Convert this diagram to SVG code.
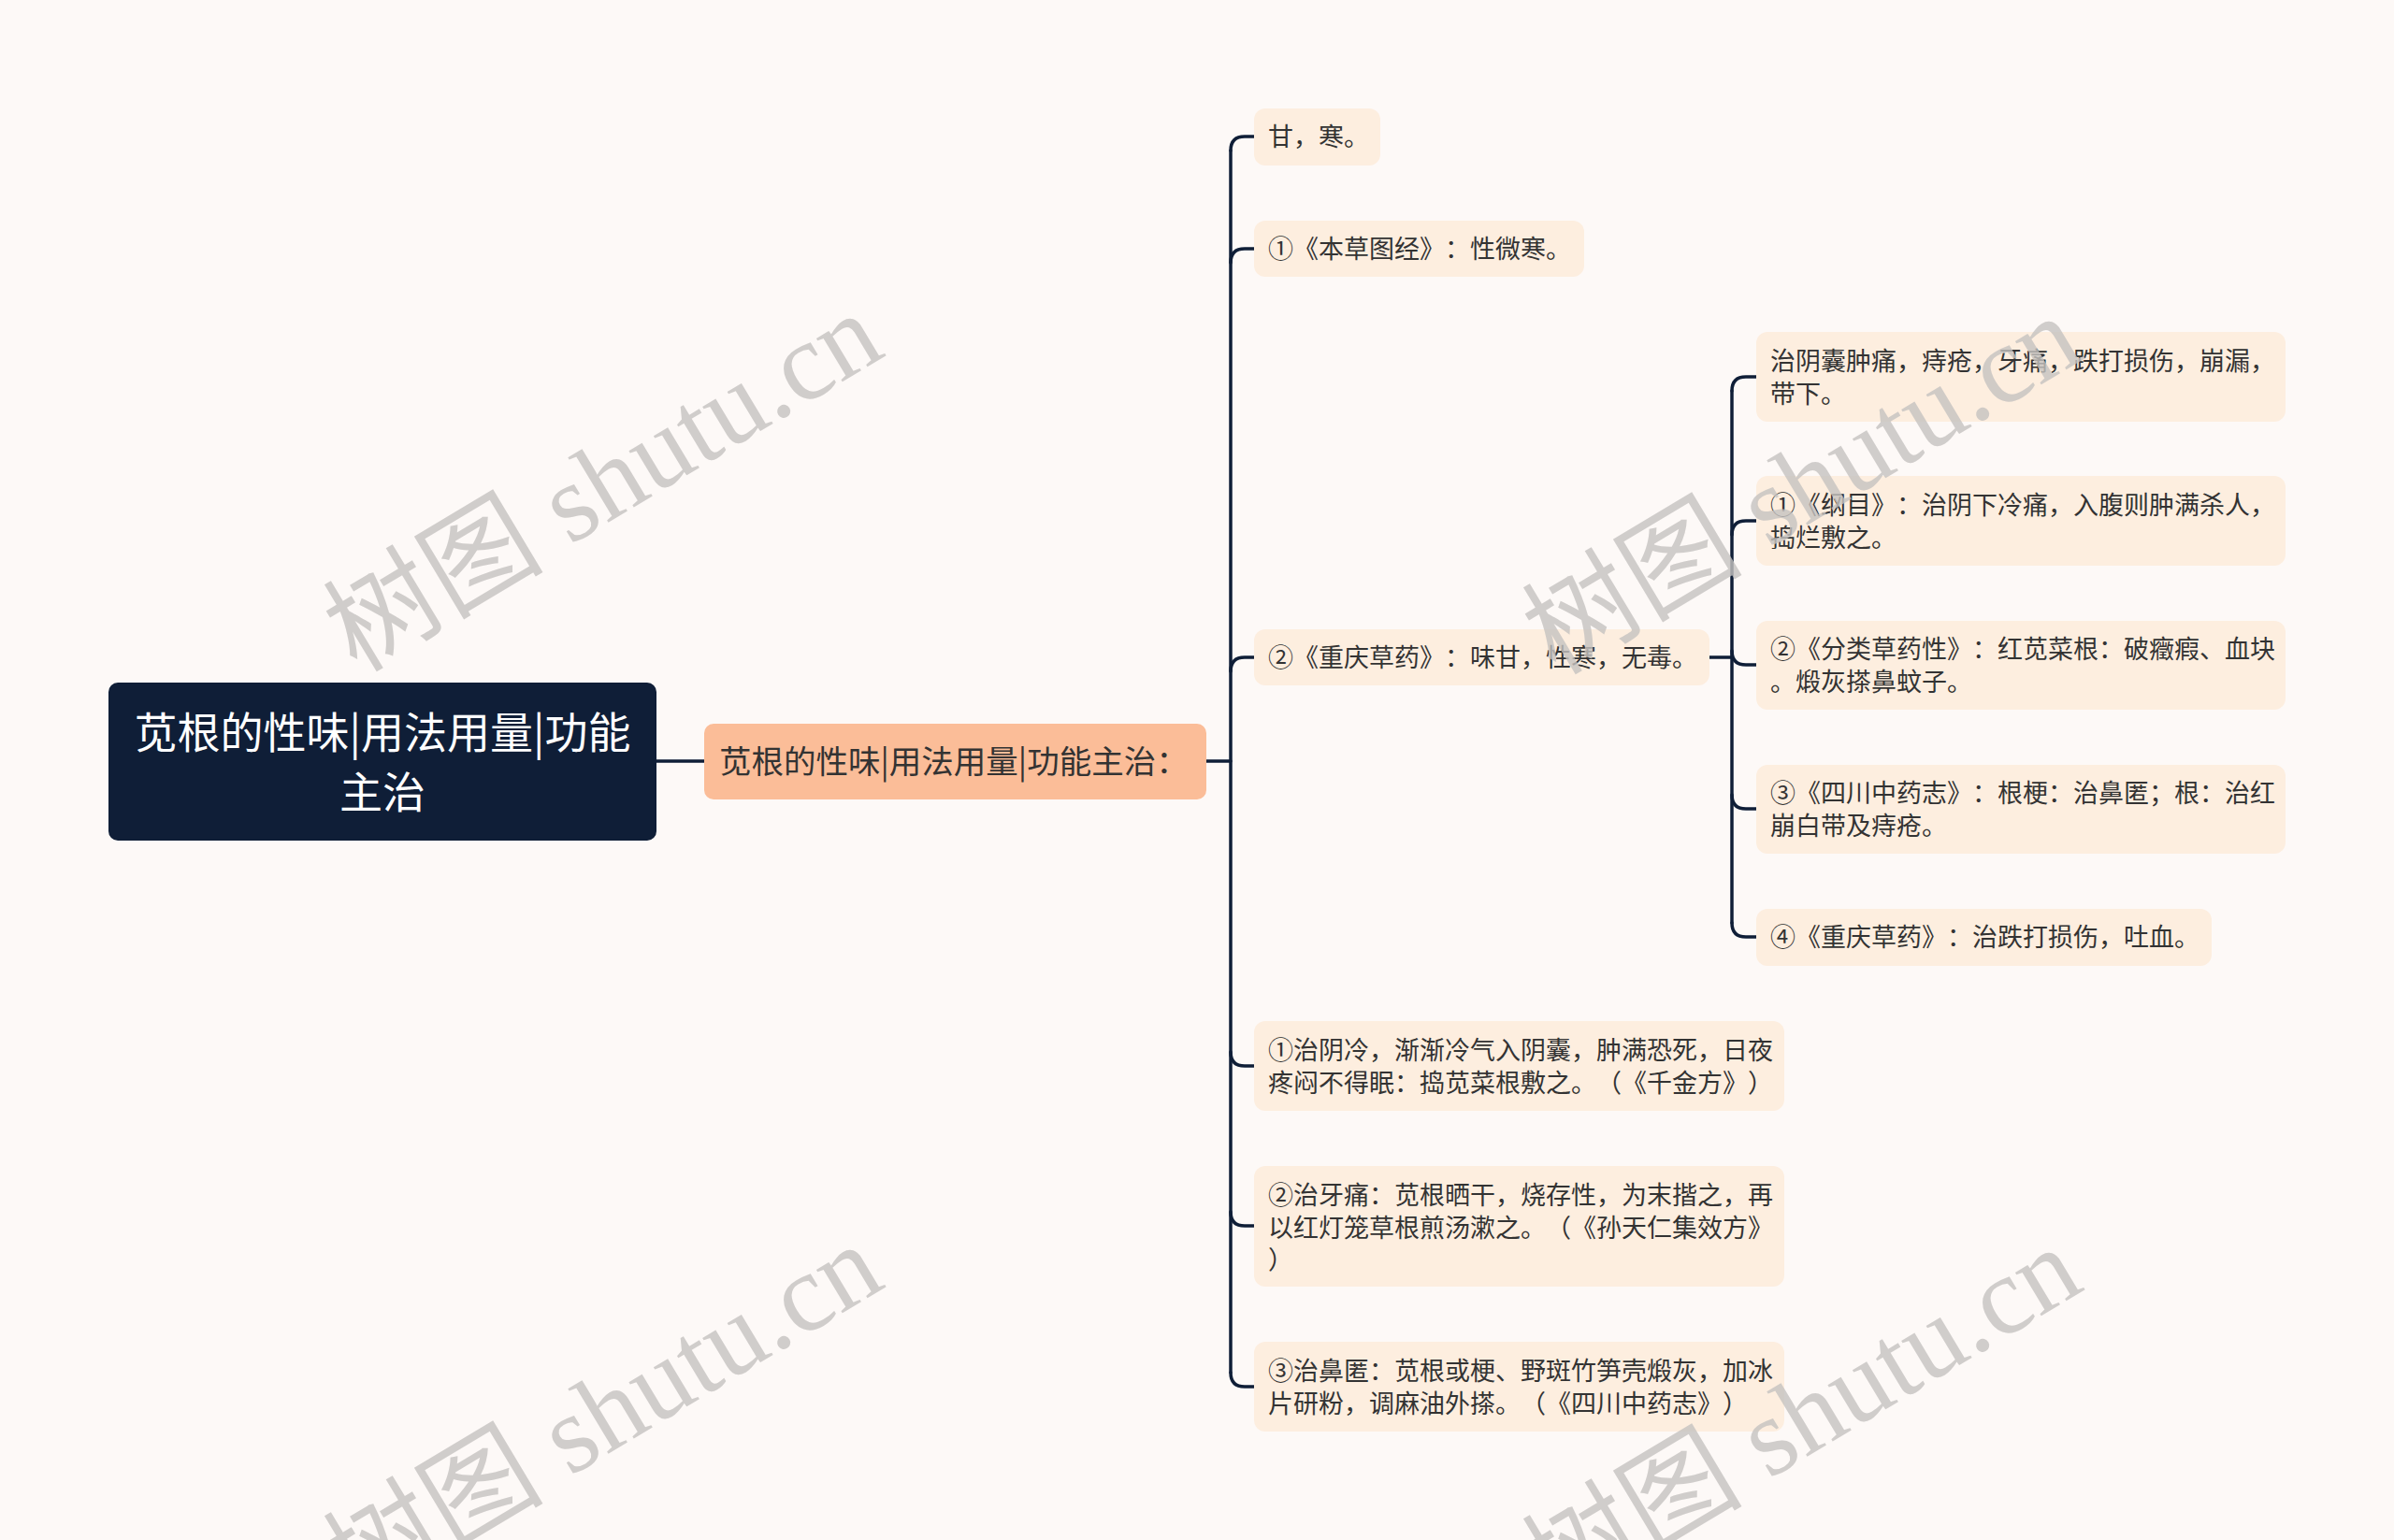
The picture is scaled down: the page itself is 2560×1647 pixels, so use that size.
<svg xmlns="http://www.w3.org/2000/svg" width="2560" height="1647" viewBox="0 0 2560 1647">
<style>
.bg{fill:#fdf9f7}
.root{fill:#0f1e37}
.l1{fill:#fbbd98}
.leaf{fill:#fdeedf}
text{text-spacing-trim:space-all}
.t{font-family:"Noto Sans CJK SC","Noto Sans",sans-serif;fill:#333333}
.rt{font-family:"Noto Sans CJK SC","Noto Sans",sans-serif;fill:#ffffff;font-size:46px}
.lt{font-size:27px}
.conn path,.conn line{fill:none;stroke:#0f1e37;stroke-width:3.5;stroke-linecap:round}
.wm{font-family:"Liberation Serif","Noto Sans CJK SC",serif;font-size:118px;fill:#c6c3c1;opacity:0.8}
</style>
<rect class="bg" x="0" y="0" width="2560" height="1647"/>

<g id="connectors" class="conn">
  <line x1="702" y1="814" x2="753" y2="814"/>
  <line x1="1290" y1="814" x2="1316" y2="814"/>
  <line x1="1316" y1="161" x2="1316" y2="1468"/>
  <path d="M1316,161 Q1316,146 1331,146 L1341,146"/>
  <path d="M1316,281 Q1316,266 1331,266 L1341,266"/>
  <path d="M1316,718 Q1316,703 1331,703 L1341,703"/>
  <path d="M1316,1125 Q1316,1140 1331,1140 L1341,1140"/>
  <path d="M1316,1296 Q1316,1311 1331,1311 L1341,1311"/>
  <path d="M1316,1468 Q1316,1483 1331,1483 L1341,1483"/>
  <line x1="1826" y1="703" x2="1852" y2="703"/>
  <line x1="1852" y1="418" x2="1852" y2="987"/>
  <path d="M1852,418 Q1852,403 1867,403 L1878,403"/>
  <path d="M1852,572 Q1852,557 1867,557 L1878,557"/>
  <path d="M1852,696 Q1852,711 1867,711 L1878,711"/>
  <path d="M1852,850 Q1852,865 1867,865 L1878,865"/>
  <path d="M1852,987 Q1852,1002 1867,1002 L1878,1002"/>
</g>

<g id="node-root">
  <rect class="root" x="116" y="730" width="586" height="169" rx="10"/>
  <text class="rt" x="409" y="800" text-anchor="middle">苋根的性味|用法用量|功能</text>
  <text class="rt" x="409" y="864" text-anchor="middle">主治</text>
</g>

<g id="node-l1">
  <rect class="l1" x="753" y="774" width="537" height="81" rx="10"/>
  <text class="t" x="769" y="827" font-size="34.5">苋根的性味|用法用量|功能主治：</text>
</g>

<g id="node-c1">
  <rect class="leaf" x="1341" y="116" width="135" height="61" rx="12"/>
  <text class="t lt" x="1356" y="156">甘，寒。</text>
</g>
<g id="node-c2">
  <rect class="leaf" x="1341" y="236" width="353" height="60" rx="12"/>
  <text class="t lt" x="1356" y="276">①《本草图经》：性微寒。</text>
</g>
<g id="node-c3">
  <rect class="leaf" x="1341" y="673" width="487" height="60" rx="12"/>
  <text class="t lt" x="1356" y="713">②《重庆草药》：味甘，性寒，无毒。</text>
</g>
<g id="node-c4">
  <rect class="leaf" x="1341" y="1092" width="567" height="96" rx="12"/>
  <text class="t lt" x="1356" y="1133">①治阴冷，渐渐冷气入阴囊，肿满恐死，日夜</text>
  <text class="t lt" x="1356" y="1168">疼闷不得眠：捣苋菜根敷之。（《千金方》）</text>
</g>
<g id="node-c5">
  <rect class="leaf" x="1341" y="1247" width="567" height="129" rx="12"/>
  <text class="t lt" x="1356" y="1288">②治牙痛：苋根晒干，烧存性，为末揩之，再</text>
  <text class="t lt" x="1356" y="1323">以红灯笼草根煎汤漱之。（《孙天仁集效方》</text>
  <text class="t lt" x="1356" y="1357">）</text>
</g>
<g id="node-c6">
  <rect class="leaf" x="1341" y="1435" width="567" height="96" rx="12"/>
  <text class="t lt" x="1356" y="1476">③治鼻匿：苋根或梗、野斑竹笋壳煅灰，加冰</text>
  <text class="t lt" x="1356" y="1511">片研粉，调麻油外搽。（《四川中药志》）</text>
</g>

<g id="node-s1">
  <rect class="leaf" x="1878" y="355" width="566" height="96" rx="12"/>
  <text class="t lt" x="1893" y="396">治阴囊肿痛，痔疮，牙痛，跌打损伤，崩漏，</text>
  <text class="t lt" x="1893" y="431">带下。</text>
</g>
<g id="node-s2">
  <rect class="leaf" x="1878" y="509" width="566" height="96" rx="12"/>
  <text class="t lt" x="1893" y="550">①《纲目》：治阴下冷痛，入腹则肿满杀人，</text>
  <text class="t lt" x="1893" y="585">捣烂敷之。</text>
</g>
<g id="node-s3">
  <rect class="leaf" x="1878" y="664" width="566" height="95" rx="12"/>
  <text class="t lt" x="1893" y="704">②《分类草药性》：红苋菜根：破癥瘕、血块</text>
  <text class="t lt" x="1893" y="739">。煅灰搽鼻蚊子。</text>
</g>
<g id="node-s4">
  <rect class="leaf" x="1878" y="818" width="566" height="95" rx="12"/>
  <text class="t lt" x="1893" y="858">③《四川中药志》：根梗：治鼻匿；根：治红</text>
  <text class="t lt" x="1893" y="893">崩白带及痔疮。</text>
</g>
<g id="node-s5">
  <rect class="leaf" x="1878" y="972" width="487" height="61" rx="12"/>
  <text class="t lt" x="1893" y="1012">④《重庆草药》：治跌打损伤，吐血。</text>
</g>

<g id="watermarks">
  <text class="wm" x="645" y="516" text-anchor="middle" dominant-baseline="central" transform="rotate(-31 645 516)">树图 shutu.cn</text>
  <text class="wm" x="1927" y="519" text-anchor="middle" dominant-baseline="central" transform="rotate(-31 1927 519)">树图 shutu.cn</text>
  <text class="wm" x="645" y="1512" text-anchor="middle" dominant-baseline="central" transform="rotate(-31 645 1512)">树图 shutu.cn</text>
  <text class="wm" x="1927" y="1515" text-anchor="middle" dominant-baseline="central" transform="rotate(-31 1927 1515)">树图 shutu.cn</text>
</g>
</svg>
